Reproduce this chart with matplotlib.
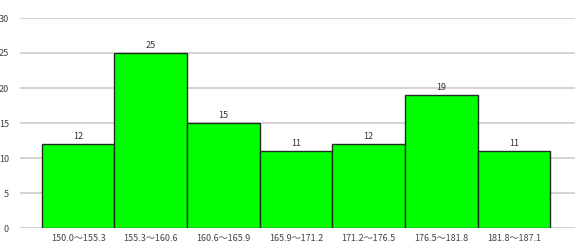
import matplotlib
matplotlib.use("Agg")
import matplotlib.pyplot as plt

plt.rcParams['font.family'] = ['Noto Sans CJK JP', 'DejaVu Sans']

labels = ["150.0〜155.3", "155.3〜160.6", "160.6〜165.9", "165.9〜171.2",
          "171.2〜176.5", "176.5〜181.8", "181.8〜187.1"]
counts = [12, 25, 15, 11, 12, 19, 11]
yticks = [0, 5, 10, 15, 20, 25, 30]

fig = plt.figure(figsize=(5.8, 2.49), dpi=100)
ax = fig.add_axes([20 / 580, 21 / 249, 555 / 580, 210 / 249])

x = list(range(len(counts)))
ax.bar(x, counts, width=1.0, color="#00ff00", edgecolor="#1f2f1f", linewidth=1.0, zorder=3)
for xi, c in zip(x, counts):
    ax.text(xi, c + 0.4, str(c), ha="center", va="bottom", fontsize=6.5, color="#333333", zorder=4)

ax.set_xlim(-0.80, 6.84)
ax.set_ylim(0, 30)
ax.set_yticks(yticks)
ax.set_xticks(x)
ax.set_xticklabels(labels)
ax.yaxis.grid(True, color="#cccccc", linewidth=1.2, zorder=0)
ax.set_axisbelow(True)
for s in ax.spines.values():
    s.set_visible(False)
ax.tick_params(axis="both", length=0, labelsize=6.5, colors="#444444")
ax.tick_params(axis="y", pad=8)
ax.tick_params(axis="x", pad=4)

fig.savefig("out.png", dpi=100)
